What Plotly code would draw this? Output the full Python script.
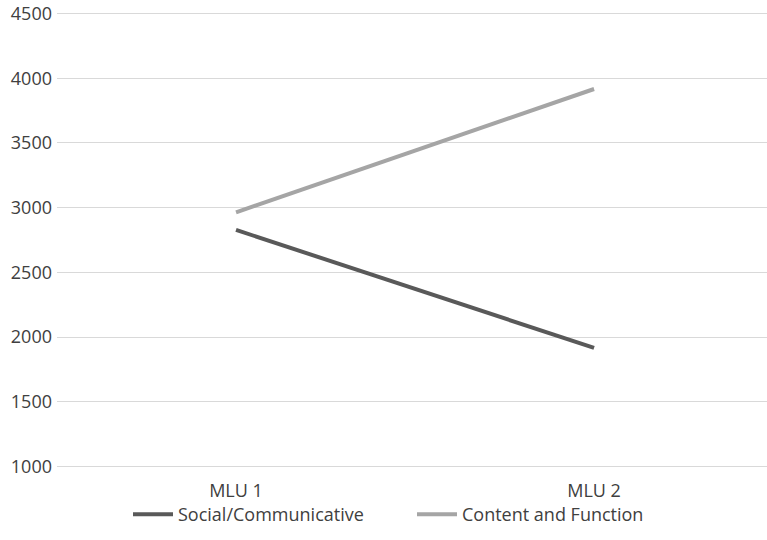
import plotly.graph_objects as go

categories = ["MLU 1", "MLU 2"]
social = [2828, 1916]
content = [2964, 3917]
y_ticks = [1000, 1500, 2000, 2500, 3000, 3500, 4000, 4500]

fig = go.Figure()
fig.add_trace(go.Scatter(x=categories, y=social, mode="lines", name="Social/Communicative",
                         line=dict(color="#595959", width=4)))
fig.add_trace(go.Scatter(x=categories, y=content, mode="lines", name="Content and Function",
                         line=dict(color="#a5a5a5", width=4)))

fig.update_layout(
    width=767, height=540,
    margin=dict(l=57, r=0, t=12, b=72),
    paper_bgcolor="white", plot_bgcolor="white",
    font=dict(family="Open Sans", size=18, color="#404040"),
    showlegend=True,
    legend=dict(orientation="h", x=0.5, xanchor="center", y=-0.0614, yanchor="top",
                bgcolor="rgba(0,0,0,0)",
                font=dict(size=18, color="#404040"), itemwidth=40,
                entrywidth=229, traceorder="normal"),
    xaxis=dict(type="category", range=[-0.5, 1.483], showgrid=False, showline=False,
               zeroline=False, ticks="", automargin=False, ticklabelstandoff=10,
               tickfont=dict(size=18, color="#404040")),
    yaxis=dict(range=[988, 4512], tickvals=y_ticks, showgrid=True, gridcolor="#d9d9d9",
               gridwidth=1, zeroline=False, showline=False, ticks="", automargin=False,
               ticklabelstandoff=4, tickfont=dict(size=18, color="#404040")),
)

fig.write_html("out.html", config={"displayModeBar": False},
               post_script="document.body.style.margin='0';")
